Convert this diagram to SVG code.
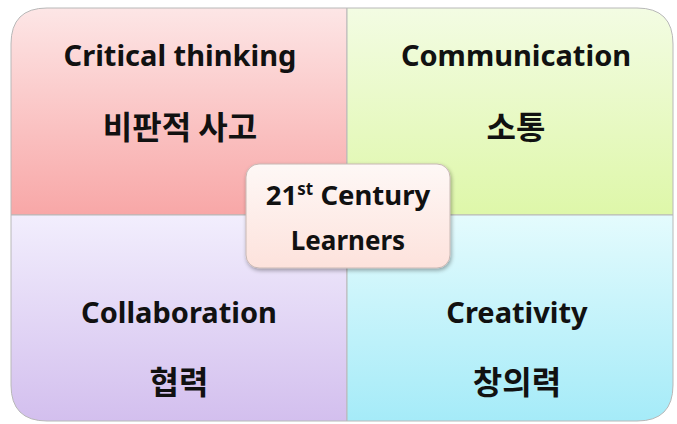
<svg xmlns="http://www.w3.org/2000/svg" width="677" height="424" viewBox="0 0 677 424">
<style>
.q{stroke:#b8b8b8;stroke-width:1}
.en{font-family:"Noto Sans","Open Sans","Liberation Sans",sans-serif;font-weight:bold;fill:#111;text-anchor:middle}
.ko{font-family:"Noto Sans CJK KR","Noto Sans",sans-serif;font-weight:bold;fill:#111;text-anchor:middle}
</style>
<defs>
<linearGradient id="gr" x1="0" y1="0" x2="0" y2="1"><stop offset="0" stop-color="#fde6e6"/><stop offset="1" stop-color="#f8a7a7"/></linearGradient>
<linearGradient id="gg" x1="0" y1="0" x2="0" y2="1"><stop offset="0" stop-color="#f3fce3"/><stop offset="1" stop-color="#def7a9"/></linearGradient>
<linearGradient id="gp" x1="0" y1="0" x2="0" y2="1"><stop offset="0" stop-color="#f2eefd"/><stop offset="1" stop-color="#d3bfee"/></linearGradient>
<linearGradient id="gc" x1="0" y1="0" x2="0" y2="1"><stop offset="0" stop-color="#e4fbfd"/><stop offset="1" stop-color="#a5ebf8"/></linearGradient>
<linearGradient id="gm" x1="0" y1="0" x2="0" y2="1"><stop offset="0" stop-color="#fef8f6"/><stop offset="1" stop-color="#fde2dc"/></linearGradient>
<filter id="sh" x="-10%" y="-10%" width="130%" height="140%"><feGaussianBlur in="SourceAlpha" stdDeviation="2"/><feOffset dx="1" dy="2"/><feComponentTransfer><feFuncA type="linear" slope="0.35"/></feComponentTransfer><feMerge><feMergeNode/><feMergeNode in="SourceGraphic"/></feMerge></filter>
</defs>
<g id="critical">
<path class="q" fill="url(#gr)" d="M11,215 V44 Q11,8 47,8 H347 V215 Z"/>
<text class="en" x="180" y="66" font-size="29">Critical thinking</text>
<text class="ko" x="180" y="139" font-size="32">비판적 사고</text>
</g>
<g id="communication">
<path class="q" fill="url(#gg)" d="M347,8 H637 Q673,8 673,44 V215 H347 Z"/>
<text class="en" x="516" y="66" font-size="29">Communication</text>
<text class="ko" x="516" y="139" font-size="32">소통</text>
</g>
<g id="collaboration">
<path class="q" fill="url(#gp)" d="M11,215 H347 V421 H47 Q11,421 11,385 Z"/>
<text class="en" x="179" y="323" font-size="29">Collaboration</text>
<text class="ko" x="179" y="394" font-size="32">협력</text>
</g>
<g id="creativity">
<path class="q" fill="url(#gc)" d="M347,215 H673 V385 Q673,421 637,421 H347 Z"/>
<text class="en" x="517" y="323" font-size="29">Creativity</text>
<text class="ko" x="517" y="394" font-size="32">창의력</text>
</g>
<g id="connectors"></g>
<g id="center">
<rect x="246" y="164" width="204" height="104" rx="13" fill="url(#gm)" stroke="#c8b8b4" stroke-width="1" filter="url(#sh)"/>
<text class="en" x="348" y="205" font-size="27.5">21<tspan font-size="17" dy="-10">st</tspan><tspan dy="10"> Century</tspan></text>
<text class="en" x="348" y="250" font-size="26">Learners</text>
</g>
</svg>
